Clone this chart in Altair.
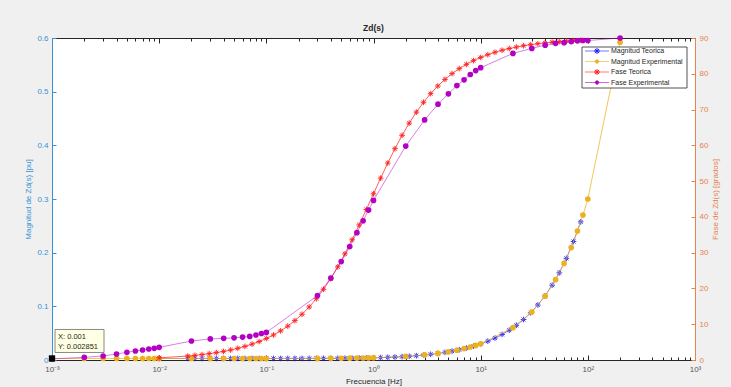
import altair as alt
import pandas as pd

# Respuesta teórica: frecuencia [Hz], magnitud [pu], fase [grados]
f_teo = [0.01, 0.01848, 0.02154, 0.02512, 0.02929, 0.03415, 0.03981, 0.04642, 0.05412, 0.0631, 0.07356, 0.08577,
         0.1, 0.1166, 0.1359, 0.1585, 0.1848, 0.2154, 0.2512, 0.2929, 0.3415, 0.3981, 0.4642, 0.5412, 0.631, 0.7356, 0.8577,
         1.0, 1.166, 1.359, 1.585, 1.848, 2.154, 2.512, 2.929, 3.415, 3.981, 4.642, 5.412, 6.31, 7.356, 8.577,
         10.0, 11.66, 13.59, 15.85, 18.48, 21.54, 25.12, 29.29, 34.15, 39.81, 46.42, 54.12, 63.1, 73.56, 85.77]
mag_teo = [0.002851, 0.002852, 0.002852, 0.002852, 0.002852, 0.002853, 0.002854, 0.002854, 0.002856, 0.002857, 0.002860, 0.002863,
           0.002867, 0.002872, 0.002880, 0.002890, 0.002904, 0.002923, 0.002949, 0.002983, 0.003030, 0.003091, 0.003173, 0.003281, 0.003422, 0.003606, 0.003841,
           0.004139, 0.004513, 0.004977, 0.005546, 0.006235, 0.007066, 0.008059, 0.009240, 0.010637, 0.012283, 0.014218, 0.016489, 0.019149, 0.022260, 0.025897,
           0.030145, 0.035106, 0.040897, 0.047648, 0.055528, 0.064718, 0.075437, 0.087937, 0.102513, 0.119508, 0.139326, 0.162432, 0.189376, 0.220788, 0.257415]
fase_teo = [0.60, 1.11, 1.30, 1.51, 1.77, 2.06, 2.40, 2.80, 3.26, 3.80, 4.43, 5.16,
            6.01, 7.00, 8.14, 9.47, 11.01, 12.78, 14.81, 17.13, 19.77, 22.74, 26.04, 29.67, 33.59, 37.75, 42.07,
            46.47, 50.83, 55.05, 59.06, 62.79, 66.20, 69.28, 72.03, 74.45, 76.58, 78.43, 80.04, 81.44, 82.64, 83.68,
            84.57, 85.34, 86.00, 86.57, 87.06, 87.47, 87.83, 88.14, 88.41, 88.63, 88.83, 88.99, 89.14, 89.26, 89.37]

# Mediciones: frecuencia [Hz], magnitud [pu], fase [grados]
f_exp = [0.001, 0.002, 0.003, 0.004, 0.005, 0.006, 0.007, 0.008, 0.009,
         0.01, 0.02, 0.03, 0.04, 0.05, 0.06, 0.07, 0.08, 0.09,
         0.1,
         0.3, 0.4, 0.5, 0.6, 0.7, 0.8, 0.9,
         1, 2, 3, 4, 5, 6, 7, 8, 9,
         10, 20, 30, 40, 50, 60, 70, 80, 90,
         100, 200]
mag_exp = [0.002851, 0.002851, 0.002850, 0.002852, 0.002851, 0.002852, 0.002851, 0.002853, 0.002852,
           0.002851, 0.002853, 0.002852, 0.002854, 0.002855, 0.002857, 0.002858, 0.002861, 0.002864,
           0.002868,
           0.002990, 0.003095, 0.003220, 0.003375, 0.003540, 0.003730, 0.003925,
           0.004140, 0.006640, 0.009450, 0.012340, 0.015270, 0.018230, 0.021200, 0.024180, 0.027160,
           0.030150, 0.060200, 0.089300, 0.119000, 0.149700, 0.180000, 0.209500, 0.240200, 0.270000,
           0.300000, 0.592000]
fase_exp = [0.30, 0.75, 1.12, 1.68, 2.15, 2.52, 2.80, 3.07, 3.26,
            3.54, 5.30, 5.90, 6.05, 6.20, 6.40, 6.60, 7.00, 7.40,
            7.70,
            18.0, 22.9, 27.5, 31.7, 35.6, 38.9, 41.9,
            44.6, 59.8, 67.1, 71.5, 74.4, 76.7, 78.3, 79.8, 80.9,
            81.7, 85.7, 87.1, 88.0, 88.5, 88.7, 89.0, 89.2, 89.3,
            89.3, 90.0]

series = ["Magnitud Teorica", "Magnitud Experimental", "Fase Teorica", "Fase Experimental"]

mag_ticks = [0, 0.1, 0.2, 0.3, 0.4, 0.5, 0.6]
fase_ticks = [0, 10, 20, 30, 40, 50, 60, 70, 80, 90]
x_ticks = [m * 10 ** d for d in range(-3, 3) for m in range(1, 10)] + [1000]
x_etiquetas = ["10⁻³", "10⁻²", "10⁻¹", "10⁰", "10¹", "10²", "10³"]

FUENTE = "Liberation Sans"
AZUL = "#1a1aff"
NARANJA = "#edb120"
ROJO = "#ff1a1a"
MORADO = "#b400c4"
EJE_IZQ = "#3a92d4"
EJE_DER = "#e6834f"
OSCURO = "#262626"

ASTER = "M-1,0L1,0M0,-1L0,1M-0.7,-0.7L0.7,0.7M-0.7,0.7L0.7,-0.7"
CIRC = "M-0.55,0A0.55,0.55 0 1,0 0.55,0A0.55,0.55 0 1,0 -0.55,0Z"

teo = pd.DataFrame({"f": f_teo, "mag": mag_teo, "fase": fase_teo})
exp = pd.DataFrame({"f": f_exp, "mag": mag_exp, "fase": fase_exp})

ES_DECADA = "abs(log(datum.value)/LN10 - round(log(datum.value)/LN10)) < 1e-6"
ETIQ_X = "[" + ",".join(f"'{t}'" for t in x_etiquetas) + "]"

x_scale = alt.Scale(type="log", domain=[0.001, 1000], nice=False)
mag_scale = alt.Scale(domain=[0, 0.6], nice=False)
fase_scale = alt.Scale(domain=[0, 90], nice=False)

eje_x_inf = alt.Axis(
    orient="bottom", values=x_ticks, title="Frecuencia [Hz]",
    labelExpr=f"{ES_DECADA} ? {ETIQ_X}[round(log(datum.value)/LN10)+3] : ''",
    tickSize={"expr": f"{ES_DECADA} ? -5 : -3"},
    labelPadding=10, labelFlush=False, labelOverlap=False,
    labelColor="#555555", titleColor=OSCURO, tickColor=OSCURO, domainColor=OSCURO,
    titlePadding=2, grid=False,
)
eje_x_sup = alt.Axis(
    orient="top", values=x_ticks, title=None, labels=False,
    tickSize={"expr": f"{ES_DECADA} ? -5 : -3"},
    tickColor=OSCURO, domainColor=OSCURO, grid=False,
)
eje_mag = alt.Axis(
    orient="left", values=mag_ticks, format=".1~f", title="Magnitud de Zd(s) [pu]",
    tickSize={"expr": "-4"}, labelPadding=8,
    labelColor=EJE_IZQ, titleColor=EJE_IZQ, tickColor=EJE_IZQ, domainColor=EJE_IZQ,
    titlePadding=4, grid=False,
)
eje_fase = alt.Axis(
    orient="right", values=fase_ticks, format="d", title="Fase de Zd(s) [grados]",
    tickSize={"expr": "-4"}, labelPadding=8,
    labelColor=EJE_DER, titleColor=EJE_DER, tickColor=EJE_DER, domainColor=EJE_DER,
    titleAngle=270, titleBaseline="top", titlePadding=4, grid=False,
)

# Eje izquierdo: magnitud
xi = alt.X("f:Q", scale=x_scale, axis=eje_x_inf)
ym = alt.Y("mag:Q", scale=mag_scale, axis=eje_mag)
capa_mag = alt.layer(
    alt.Chart(teo).mark_line(color=AZUL, strokeWidth=1, opacity=0.55).encode(x=xi, y=ym),
    alt.Chart(teo).mark_point(shape=ASTER, size=32, filled=False, color=AZUL, strokeWidth=1, opacity=0.85).encode(x=xi, y=ym),
    alt.Chart(exp).mark_line(color=NARANJA, strokeWidth=1, opacity=0.75).encode(x=xi, y=ym),
    alt.Chart(exp).mark_circle(size=32, color=NARANJA, opacity=1).encode(x=xi, y=ym),
)

# Eje derecho: fase
xs = alt.X("f:Q", scale=x_scale, axis=eje_x_sup)
yf = alt.Y("fase:Q", scale=fase_scale, axis=eje_fase)
capa_fase = alt.layer(
    alt.Chart(teo).mark_line(color=ROJO, strokeWidth=1, opacity=0.7).encode(x=xs, y=yf),
    alt.Chart(teo).mark_point(shape=ASTER, size=32, filled=False, color=ROJO, strokeWidth=1, opacity=0.9).encode(x=xs, y=yf),
    alt.Chart(exp).mark_line(color=MORADO, strokeWidth=1, opacity=0.5).encode(x=xs, y=yf),
    alt.Chart(exp).mark_circle(size=32, color=MORADO, opacity=1).encode(x=xs, y=yf),
)

# Marcador de dato en el primer punto medido
tip = pd.DataFrame({"f": [f_exp[0]], "mag": [mag_exp[0]],
                    "tx": [f"X: {f_exp[0]:g}"], "ty": [f"Y: {mag_exp[0]:g}"]})
xt = alt.X("f:Q", scale=x_scale, axis=None)
yt = alt.Y("mag:Q", scale=mag_scale, axis=None)
capa_tip = alt.layer(
    alt.Chart(tip).mark_rect(fill="#ffffe4", stroke="#6b6b6b", strokeWidth=0.8,
                             xOffset=3, x2Offset=52, yOffset=-29, y2Offset=-6).encode(
        x=xt, x2="f:Q", y=yt, y2="mag:Q"),
    alt.Chart(tip).mark_text(align="left", baseline="middle", dx=6, dy=-21.5, fontSize=7.5,
                             font=FUENTE, color=OSCURO).encode(x=xt, y=yt, text="tx:N"),
    alt.Chart(tip).mark_text(align="left", baseline="middle", dx=6, dy=-11.5, fontSize=7.5,
                             font=FUENTE, color=OSCURO).encode(x=xt, y=yt, text="ty:N"),
    alt.Chart(tip).mark_square(size=40, color="black", opacity=1, clip=False).encode(x=xt, y=yt),
)

# Leyenda
ley = pd.DataFrame({
    "serie": series,
    "color": [AZUL, NARANJA, ROJO, MORADO],
    "forma": [ASTER, CIRC, ASTER, CIRC],
    "fila": [0, 1, 2, 3],
})
ley_base = alt.Chart(ley).transform_calculate(fy="13 + 10.5 * datum.fila")
fy = alt.Y("fy:Q", scale=None, axis=None)
capa_ley = alt.layer(
    alt.Chart(pd.DataFrame({"k": [0]})).mark_rect(fill="white", stroke=OSCURO, strokeWidth=0.8).encode(
        x=alt.value(530), x2=alt.value(635), y=alt.value(9), y2=alt.value(50)),
    ley_base.mark_rule(strokeWidth=1, opacity=0.6).encode(
        x=alt.value(533), x2=alt.value(557), y=fy, color=alt.Color("color:N", scale=None)),
    ley_base.mark_point(size=36, strokeWidth=1, opacity=1).encode(
        x=alt.value(545), y=fy, shape=alt.Shape("forma:N", scale=None),
        fill=alt.Fill("color:N", scale=None), stroke=alt.Stroke("color:N", scale=None)),
    ley_base.mark_text(align="left", baseline="middle", fontSize=7, font=FUENTE, color=OSCURO).encode(
        x=alt.value(559), y=fy, text="serie:N"),
)

chart = (
    alt.layer(capa_mag, capa_fase, capa_tip, capa_ley)
    .resolve_scale(y="independent")
    .resolve_axis(x="independent", y="independent")
    .properties(
        width=643, height=322,
        autosize=alt.AutoSizeParams(type="none"),
        padding={"left": 52, "top": 38, "right": 36, "bottom": 27},
        title=alt.TitleParams("Zd(s)", fontSize=8.5, fontWeight="bold", anchor="middle",
                              offset=2, color=OSCURO, font=FUENTE),
    )
    .configure(background="#f0f0f0")
    .configure_view(fill="white", stroke=None)
    .configure_axis(labelFont=FUENTE, titleFont=FUENTE, labelFontSize=8,
                    titleFontSize=8, titleFontWeight="normal")
)

chart.save("out.html", embed_options={"renderer": "svg", "actions": False})
